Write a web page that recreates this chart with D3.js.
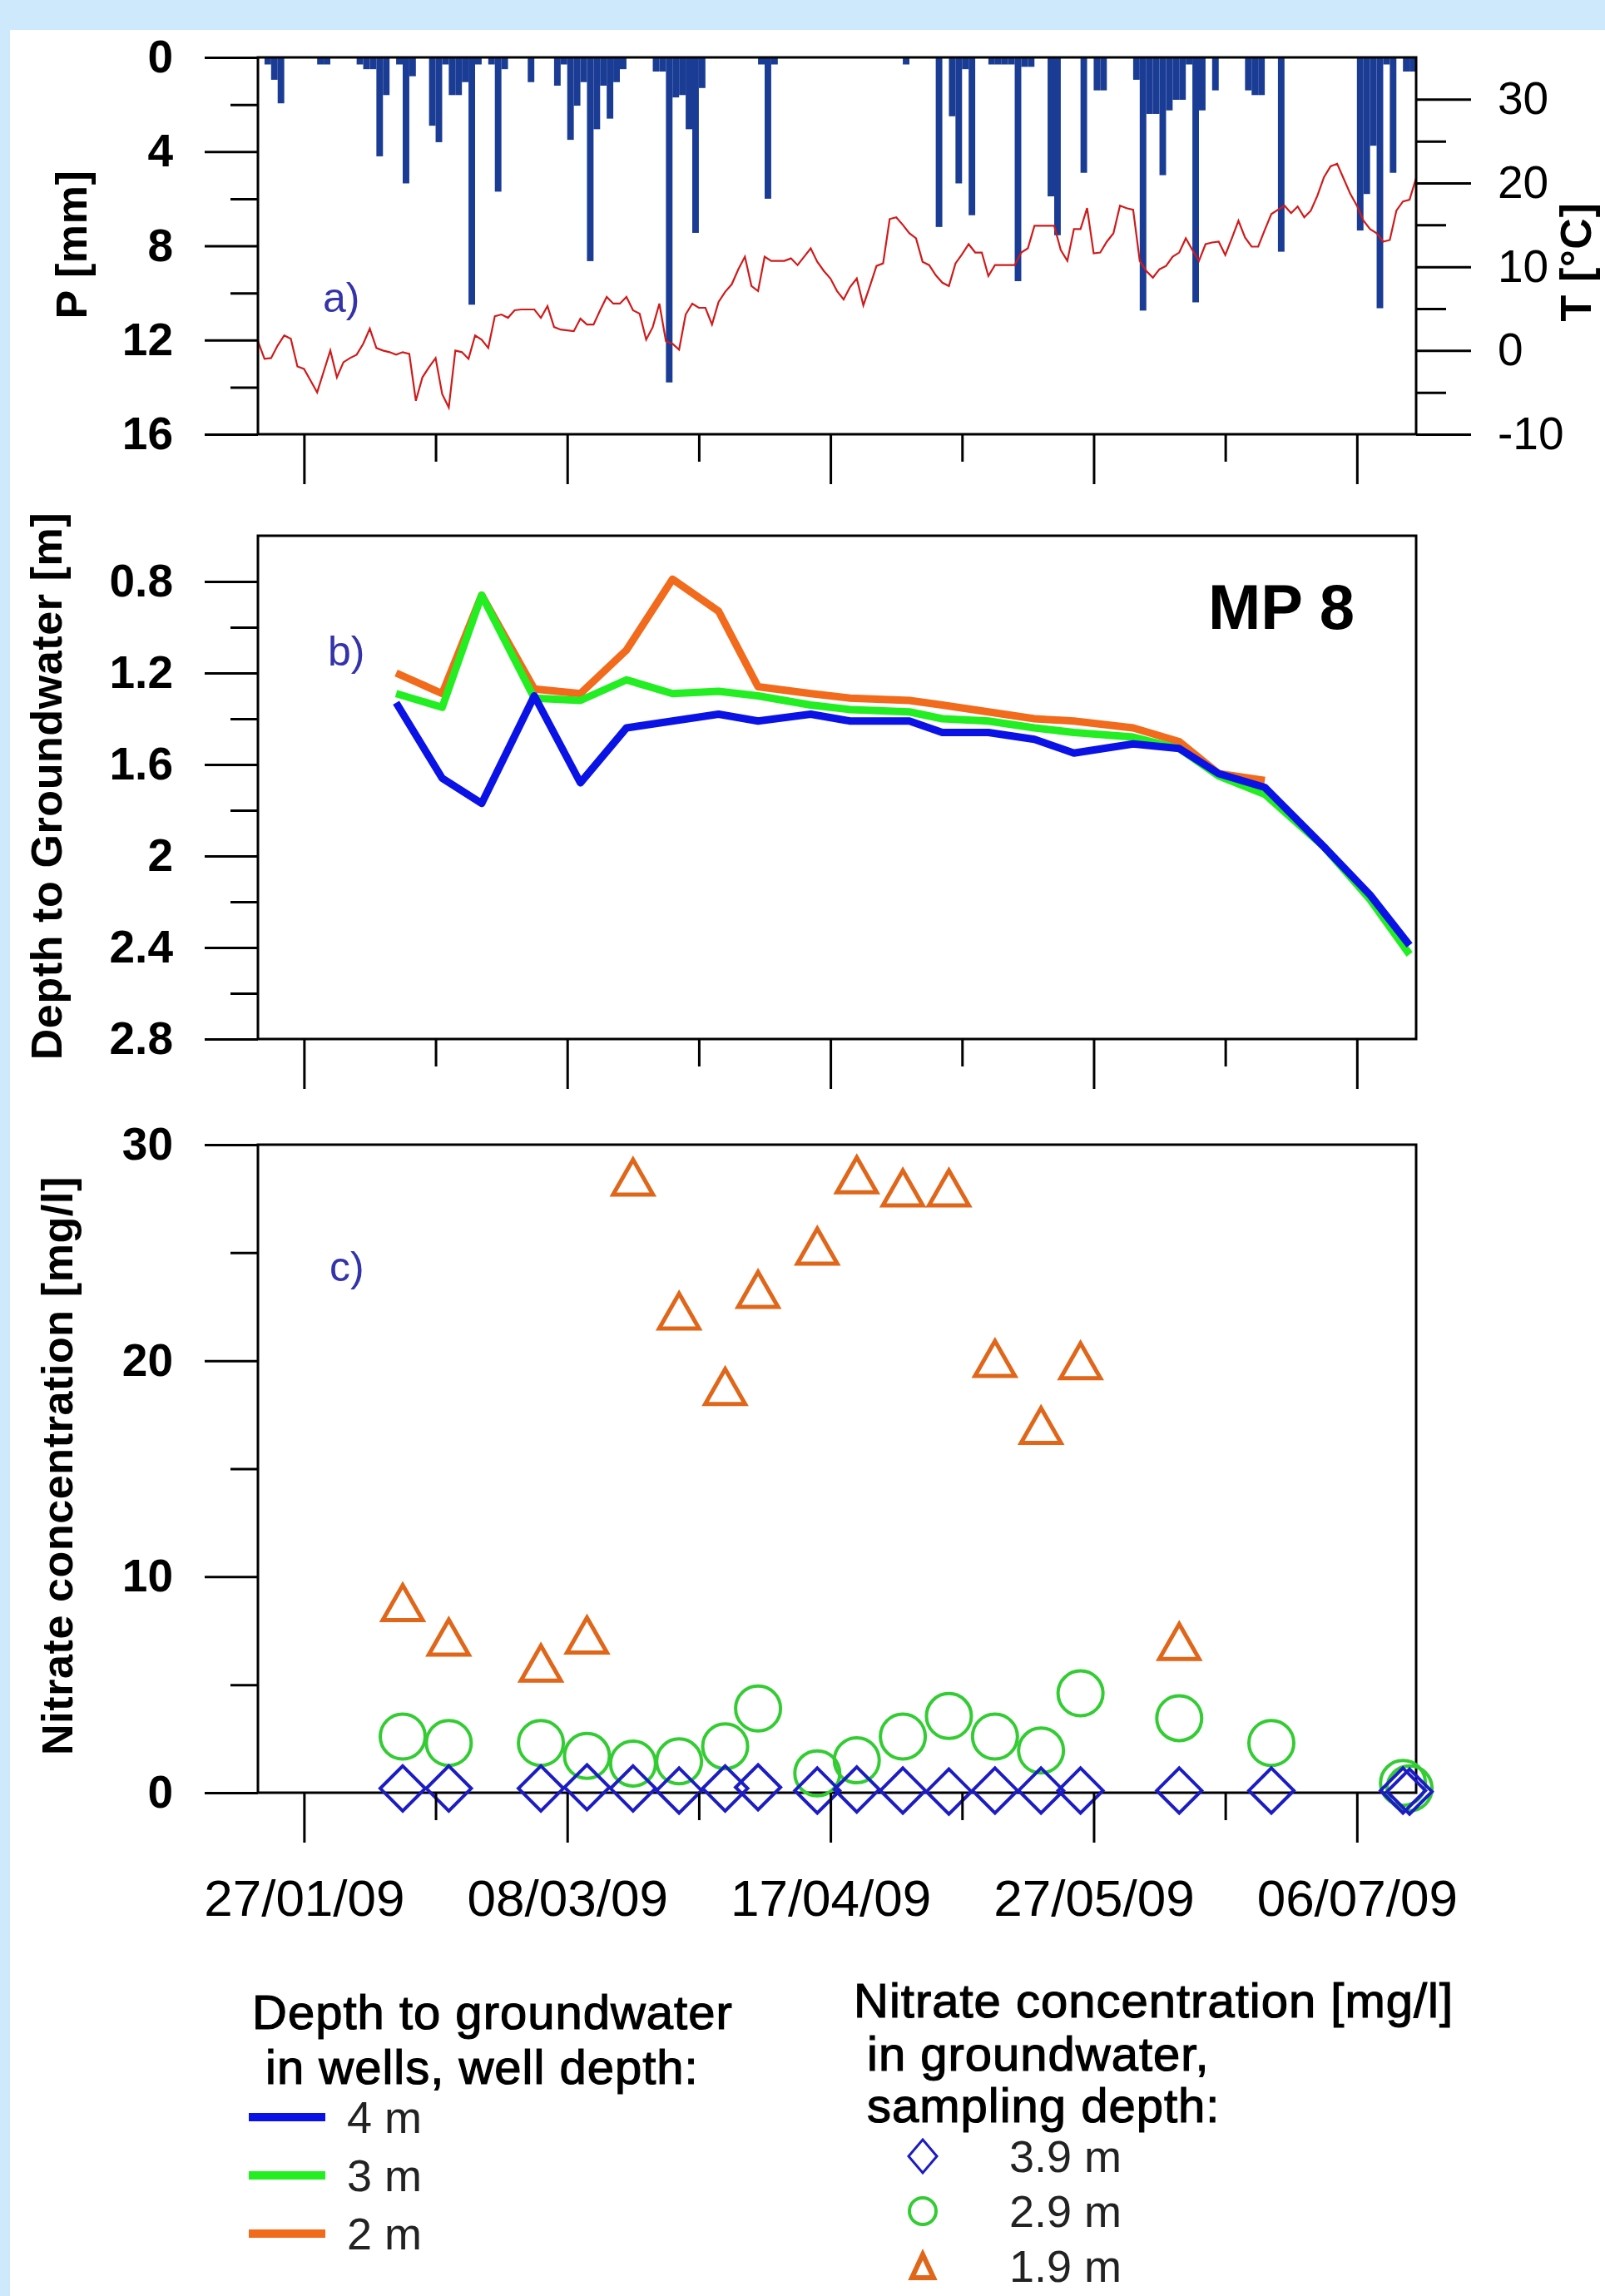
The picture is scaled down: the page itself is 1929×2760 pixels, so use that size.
<!DOCTYPE html>
<html lang="en">
<head>
<meta charset="UTF-8">
<title>MP 8 - precipitation, groundwater depth and nitrate</title>
<style>
  body { margin: 0; background: #cde9fb; }
  svg { display: block; font-family: "Liberation Sans", Arial, sans-serif; }
</style>
</head>
<body>
<svg id="chart" width="1929" height="2760"></svg>
<script src="https://cdnjs.cloudflare.com/ajax/libs/d3/7.8.5/d3.min.js"></script>
<script>
'use strict';

// ---- data ----
const startDate = '2009-01-20';
const endDate = '2009-07-15';

// daily precipitation [mm], one value per day from startDate
const precip = [
  0, 0.3, 0.95, 1.95, 0, 0, 0, 0, 0, 0.3,
  0.3, 0, 0, 0, 0, 0.3, 0.5, 0.5, 4.2, 1.6,
  0, 0.3, 5.35, 0.8, 0, 0, 2.9, 3.6, 0.3, 1.6,
  1.6, 1.05, 10.5, 0.3, 0, 0.3, 5.7, 0.5, 0, 0,
  0, 1.05, 0, 0, 0, 1.2, 0.3, 3.5, 2.05, 1.05,
  8.65, 3.05, 1.2, 2.6, 1.05, 0.5, 0, 0, 0, 0,
  0.6, 0.6, 13.8, 1.7, 1.6, 3.05, 7.45, 1.3, 0, 0,
  0, 0, 0, 0, 0, 0, 0.3, 6.0, 0.3, 0,
  0, 0, 0, 0, 0, 0, 0, 0, 0, 0,
  0, 0, 0, 0, 0, 0, 0, 0, 0.3, 0,
  0, 0, 0, 7.2, 0, 2.5, 5.35, 0.5, 6.7, 0,
  0, 0.3, 0.3, 0.3, 0.3, 9.5, 0.4, 0.4, 0, 0,
  5.9, 7.55, 0, 0, 0, 4.9, 0, 1.4, 1.4, 0,
  0, 0, 0, 0.95, 10.75, 2.4, 2.4, 5.0, 2.25, 1.8,
  1.8, 0.3, 10.4, 2.25, 0, 1.4, 0, 0, 0, 0,
  1.4, 1.6, 1.6, 0, 0, 8.25, 0, 0, 0, 0,
  0, 0, 0, 0, 0, 0, 0, 7.35, 5.8, 3.75,
  10.65, 0.3, 4.9, 0, 0.6, 0.6
];

// daily mean air temperature [°C], one value per day from startDate
const temperature = [
  1.1, -1.0, -0.9, 0.6, 1.8, 1.4, -1.9, -2.2, -3.6, -5.0,
  -2.5, 0.0, -3.2, -1.4, -0.9, -0.5, 0.8, 2.6, 0.3, 0.0,
  -0.2, -0.5, -0.2, -0.4, -6.0, -3.2, -2.0, -0.9, -5.2, -6.8,
  0.0, -0.2, -1.0, 1.8, 1.3, 0.3, 4.1, 4.3, 3.9, 4.8,
  4.9, 4.9, 4.9, 3.9, 5.3, 2.8, 2.5, 2.4, 2.3, 3.8,
  3.1, 3.1, 4.8, 6.4, 5.6, 5.6, 6.4, 4.8, 4.4, 1.3,
  2.8, 5.6, 1.1, 0.8, 0.1, 4.3, 5.6, 5.1, 5.1, 3.1,
  5.8, 7.0, 7.9, 9.7, 11.2, 7.7, 7.1, 11.2, 10.7, 10.7,
  10.7, 11.0, 10.2, 11.2, 12.2, 10.6, 9.5, 8.6, 7.1, 6.1,
  7.6, 8.6, 5.4, 7.7, 10.1, 10.4, 15.7, 15.9, 15.0, 14.0,
  13.4, 10.6, 10.2, 9.0, 8.1, 7.7, 10.4, 11.5, 12.7, 11.7,
  11.7, 8.9, 10.2, 10.2, 10.2, 10.2, 11.7, 12.2, 14.9, 14.9,
  14.9, 14.9, 12.0, 10.7, 14.5, 14.5, 17.0, 11.6, 11.7, 13.0,
  14.0, 17.3, 17.0, 16.8, 10.7, 9.5, 8.7, 9.7, 10.1, 11.2,
  11.7, 13.4, 12.0, 10.7, 12.7, 12.9, 13.0, 11.4, 13.4, 15.5,
  13.5, 12.4, 12.4, 14.4, 16.3, 16.8, 17.3, 16.4, 17.2, 15.9,
  16.7, 18.5, 20.7, 22.0, 22.3, 20.5, 18.7, 17.3, 15.5, 14.5,
  14.0, 13.0, 13.2, 16.7, 17.8, 18.0, 20.6
];

// depth to groundwater [m] in wells
const wellDates = ['2009-02-10', '2009-02-17', '2009-02-23', '2009-03-03', '2009-03-10', '2009-03-17',
  '2009-03-24', '2009-03-31', '2009-04-06', '2009-04-14', '2009-04-20', '2009-04-29', '2009-05-04',
  '2009-05-11', '2009-05-18', '2009-05-24', '2009-06-02', '2009-06-09', '2009-06-15', '2009-06-22',
  '2009-07-01', '2009-07-08', '2009-07-14'];
const depthWell4m = [1.33, 1.66, 1.77, 1.30, 1.68, 1.44, 1.41, 1.38, 1.41, 1.38, 1.41, 1.41, 1.46,
  1.46, 1.49, 1.55, 1.51, 1.53, 1.64, 1.70, 1.96, 2.17, 2.39];
const depthWell3m = [1.29, 1.35, 0.86, 1.31, 1.32, 1.23, 1.29, 1.28, 1.30, 1.34, 1.36, 1.37, 1.40,
  1.41, 1.44, 1.46, 1.48, 1.53, 1.65, 1.73, 1.96, 2.19, 2.43];
const depthWell2m = [1.20, 1.29, 0.86, 1.27, 1.29, 1.10, 0.79, 0.93, 1.26, 1.29, 1.31, 1.32, 1.34,
  1.37, 1.40, 1.41, 1.44, 1.50, 1.64, 1.67];

// nitrate [mg/l] by sampling depth
const sampleDates = ['2009-02-11', '2009-02-18', '2009-03-04', '2009-03-11', '2009-03-18', '2009-03-25',
  '2009-04-01', '2009-04-06', '2009-04-15', '2009-04-21', '2009-04-28', '2009-05-05', '2009-05-12',
  '2009-05-19', '2009-05-25', '2009-06-09', '2009-06-23', '2009-07-13', '2009-07-14'];
const nitrate19 = [8.8, 7.2, 6.0, 7.3, 28.5, 22.3, 18.8, 23.3, 25.3, 28.6, 28.0, 28.0, 20.1, 17.0,
  20.0, 7.0, null, null, null];
const nitrate29 = [2.6, 2.3, 2.3, 1.7, 1.35, 1.45, 2.15, 3.9, 0.9, 1.5, 2.6, 3.55, 2.6, 1.95,
  4.6, 3.45, 2.3, 0.45, 0.2];
const nitrate39 = [0.2, 0.2, 0.2, 0.25, 0.2, 0.1, 0.2, 0.25, 0.1, 0.15, 0.1, 0.05, 0.1, 0.1,
  0.1, 0.1, 0.1, 0.1, 0.05];

const majorTickDates = ['2009-01-27', '2009-03-08', '2009-04-17', '2009-05-27', '2009-07-06'];
const minorTickDates = ['2009-02-16', '2009-03-28', '2009-05-07', '2009-06-16'];

const pTicks = [0, 4, 8, 12, 16], pMinor = [2, 6, 10, 14];
const tTicks = [-10, 0, 10, 20, 30], tMinor = [-5, 5, 15, 25];
const dTicks = [0.8, 1.2, 1.6, 2, 2.4, 2.8], dMinor = [1.0, 1.4, 1.8, 2.2, 2.6];
const nTicks = [0, 10, 20, 30], nMinor = [5, 15, 25];

// ---- setup ----
const parse = d3.utcParse('%Y-%m-%d');
const day0 = parse(startDate);
const svg = d3.select('#chart');

svg.append('rect').attr('x', 12).attr('y', 36).attr('width', 1917).attr('height', 2724).attr('fill', '#fff');

const left = 310, right = 1702;
const pa = { top: 69, bottom: 522 }, pb = { top: 644, bottom: 1249 }, pc = { top: 1376, bottom: 2155 };

const x = d3.scaleUtc().domain([parse(startDate), parse(endDate)]).range([left, right]);
const yP = d3.scaleLinear().domain([0, 16]).range([pa.top, pa.bottom]);
const yT = d3.scaleLinear().domain([-10, 35]).range([pa.bottom, pa.top]);
const yD = d3.scaleLinear().domain([0.6, 2.8]).range([pb.top, pb.bottom]);
const yN = d3.scaleLinear().domain([0, 30]).range([pc.bottom, pc.top]);

function styleAxis(g, size, weight) {
  g.select('.domain').remove();
  g.attr('font-family', null).attr('font-size', null);
  g.selectAll('line').attr('stroke', '#000').attr('stroke-width', 3);
  g.selectAll('text').attr('font-size', size).attr('font-weight', weight).attr('fill', '#000');
}

function leftAxis(scale, major, minor) {
  svg.append('g').attr('transform', `translate(${left},0)`)
    .call(d3.axisLeft(scale).tickValues(major).tickSize(64).tickPadding(38).tickFormat(d => String(d)))
    .call(styleAxis, 55, 'bold');
  svg.append('g').attr('transform', `translate(${left},0)`)
    .call(d3.axisLeft(scale).tickValues(minor).tickSize(33).tickFormat(''))
    .call(styleAxis, 55, 'bold');
}

function bottomAxis(y0, labels) {
  const ax = d3.axisBottom(x).tickValues(majorTickDates.map(parse)).tickSize(60).tickPadding(44)
    .tickFormat(labels ? d3.utcFormat('%d/%m/%y') : '');
  svg.append('g').attr('transform', `translate(0,${y0})`).call(ax).call(styleAxis, 62, 'normal');
  svg.append('g').attr('transform', `translate(0,${y0})`)
    .call(d3.axisBottom(x).tickValues(minorTickDates.map(parse)).tickSize(33).tickFormat(''))
    .call(styleAxis, 62, 'normal');
}

function frame(p) {
  svg.append('rect').attr('x', left).attr('y', p.top).attr('width', right - left).attr('height', p.bottom - p.top)
    .attr('fill', 'none').attr('stroke', '#000').attr('stroke-width', 3);
}

function panelLabel(txt, xx, yy) {
  svg.append('text').attr('x', xx).attr('y', yy).attr('font-size', 50).attr('fill', '#3333aa').text(txt);
}

function axisTitle(txt, cx, cy) {
  svg.append('text').attr('transform', `translate(${cx},${cy}) rotate(-90)`)
    .attr('text-anchor', 'middle').attr('dy', '0.36em')
    .attr('font-size', 52).attr('font-weight', 'bold').attr('letter-spacing', 0.6)
    .text(txt);
}

// ---- panel a: precipitation + temperature ----
const precipData = precip.map((p, i) => ({ d: d3.utcDay.offset(day0, i), p })).filter(r => r.p > 0);
svg.append('g').selectAll('rect').data(precipData).join('rect')
  .attr('x', r => x(r.d))
  .attr('width', r => x(d3.utcDay.offset(r.d, 1)) - x(r.d))
  .attr('y', yP(0))
  .attr('height', r => yP(r.p) - yP(0))
  .attr('fill', '#1a3c94');

const tempData = temperature.map((t, i) => ({ d: d3.utcDay.offset(day0, i), t }));
svg.append('path').datum(tempData)
  .attr('fill', 'none').attr('stroke', '#d01a1a').attr('stroke-width', 2.2)
  .attr('d', d3.line().x(r => x(r.d)).y(r => yT(r.t)));

frame(pa);
leftAxis(yP, pTicks, pMinor);
svg.append('g').attr('transform', `translate(${right},0)`)
  .call(d3.axisRight(yT).tickValues(tTicks).tickSize(66).tickPadding(32).tickFormat(d => String(d)))
  .call(styleAxis, 55, 'normal');
svg.append('g').attr('transform', `translate(${right},0)`)
  .call(d3.axisRight(yT).tickValues(tMinor).tickSize(36).tickFormat(''))
  .call(styleAxis, 55, 'normal');
bottomAxis(pa.bottom, false);
panelLabel('a)', 388, 375);
axisTitle('P [mm]', 85, 294);
axisTitle('T [°C]', 1893, 315);

// ---- panel b: depth to groundwater ----
const wells = [
  { values: depthWell2m, color: '#f26a1c' },
  { values: depthWell3m, color: '#22ee22' },
  { values: depthWell4m, color: '#0a12e6' }
];
const depthLine = d3.line().x(r => x(r.d)).y(r => yD(r.v));
wells.forEach(w => {
  const pts = w.values.map((v, i) => ({ d: parse(wellDates[i]), v }));
  svg.append('path').datum(pts)
    .attr('fill', 'none').attr('stroke', w.color).attr('stroke-width', 9)
    .attr('stroke-linejoin', 'round')
    .attr('d', depthLine);
});

frame(pb);
leftAxis(yD, dTicks, dMinor);
bottomAxis(pb.bottom, false);
panelLabel('b)', 394, 800);
svg.append('text').attr('x', 1452).attr('y', 756).attr('font-size', 76).attr('font-weight', 'bold').text('MP 8');
axisTitle('Depth to Groundwater [m]', 55, 945);

// ---- panel c: nitrate ----
const diamond = (rx, ry) => `M0,${-ry}L${rx},0L0,${ry}L${-rx},0Z`;
const triangle = (hw, h) => `M0,${-h / 2}L${hw},${h / 2}L${-hw},${h / 2}Z`;

const n29 = nitrate29.map((v, i) => ({ d: parse(sampleDates[i]), v })).filter(r => r.v != null);
const n39 = nitrate39.map((v, i) => ({ d: parse(sampleDates[i]), v })).filter(r => r.v != null);
const n19 = nitrate19.map((v, i) => ({ d: parse(sampleDates[i]), v })).filter(r => r.v != null);

frame(pc);

svg.append('g').selectAll('circle').data(n29).join('circle')
  .attr('cx', r => x(r.d)).attr('cy', r => yN(r.v)).attr('r', 27)
  .attr('fill', 'none').attr('stroke', '#33cc33').attr('stroke-width', 4);

svg.append('g').selectAll('path').data(n39).join('path')
  .attr('transform', r => `translate(${x(r.d)},${yN(r.v)})`)
  .attr('d', diamond(27, 27))
  .attr('fill', 'none').attr('stroke', '#1c1cc4').attr('stroke-width', 4);

svg.append('g').selectAll('path').data(n19).join('path')
  .attr('transform', r => `translate(${x(r.d)},${yN(r.v)})`)
  .attr('d', triangle(24, 42))
  .attr('fill', 'none').attr('stroke', '#e0661a').attr('stroke-width', 5);

leftAxis(yN, nTicks, nMinor);
bottomAxis(pc.bottom, true);
panelLabel('c)', 396, 1540);
axisTitle('Nitrate concentration [mg/l]', 68, 1762);

// ---- legends ----
function legendHead(txt, xx, yy) {
  svg.append('text').attr('x', xx).attr('y', yy).attr('font-size', 58)
    .attr('letter-spacing', 1).attr('stroke', '#000').attr('stroke-width', 1.2)
    .text(txt);
}
function legendItem(txt, xx, yy) {
  svg.append('text').attr('x', xx).attr('y', yy).attr('dy', '0.36em').attr('font-size', 54)
    .attr('fill', '#222').text(txt);
}

legendHead('Depth to groundwater', 303, 2439);
legendHead('in wells, well depth:', 319, 2505);
const lineLegend = [
  { label: '4 m', color: '#0a12e6' },
  { label: '3 m', color: '#22ee22' },
  { label: '2 m', color: '#f26a1c' }
];
lineLegend.forEach((l, i) => {
  const yy = 2545 + i * 70;
  svg.append('line').attr('x1', 299).attr('x2', 391).attr('y1', yy).attr('y2', yy)
    .attr('stroke', l.color).attr('stroke-width', 10);
  legendItem(l.label, 417, yy);
});

legendHead('Nitrate concentration [mg/l]', 1026, 2425);
legendHead('in groundwater,', 1042, 2489);
legendHead('sampling depth:', 1042, 2551);
const markLegend = [
  { label: '3.9 m', d: diamond(17, 20), color: '#1c1cc4', w: 3 },
  { label: '2.9 m', d: null, color: '#33cc33', w: 4 },
  { label: '1.9 m', d: triangle(13, 28), color: '#e0661a', w: 6 }
];
markLegend.forEach((m, i) => {
  const yy = 2592 + i * 66;
  if (m.d) {
    svg.append('path').attr('transform', `translate(1109,${yy})`).attr('d', m.d)
      .attr('fill', 'none').attr('stroke', m.color).attr('stroke-width', m.w);
  } else {
    svg.append('circle').attr('cx', 1109).attr('cy', yy).attr('r', 16)
      .attr('fill', 'none').attr('stroke', m.color).attr('stroke-width', m.w);
  }
  legendItem(m.label, 1213, yy);
});
</script>
</body>
</html>
